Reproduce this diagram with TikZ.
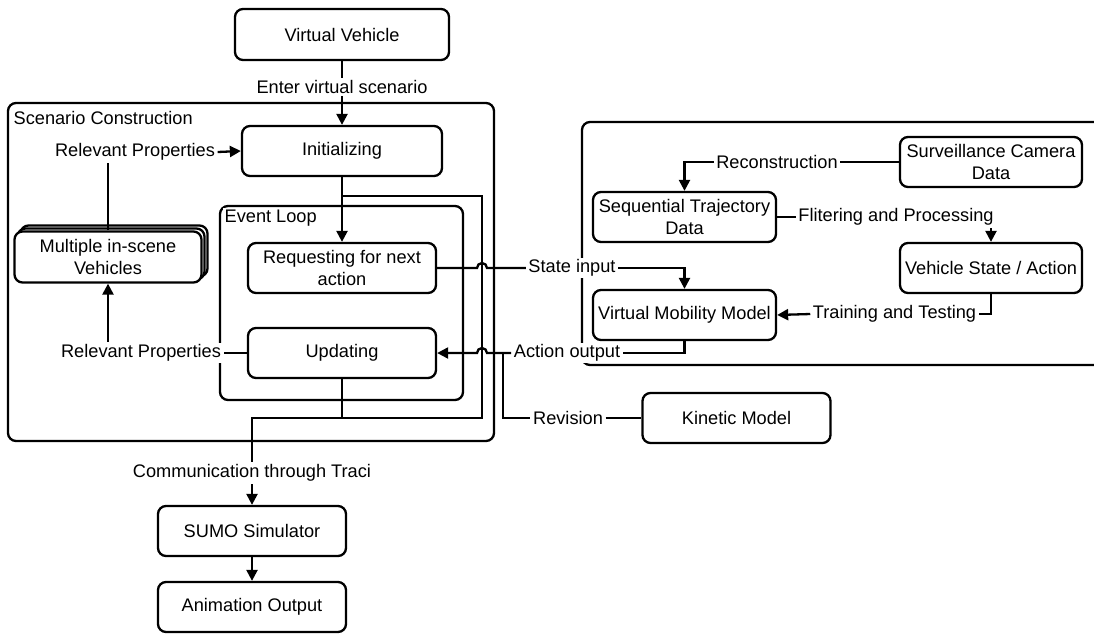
\documentclass[tikz,border=0pt]{standalone}
\usepackage{fontspec}
\setmainfont{Liberation Sans}
\usetikzlibrary{arrows.meta,shadows,calc}
\newcommand\dfont{\fontsize{18.2}{21.7}\selectfont}
\begin{document}
\begin{tikzpicture}[x=1pt,y=-1pt,line width=2.3pt,
  box/.style={draw,rounded corners=8pt,align=center,inner sep=0pt,font=\dfont,fill=white},
  wbox/.style={box,minimum width=188,minimum height=50},
  cont/.style={draw,rounded corners=8pt,inner sep=0pt},
  lbl/.style={inner sep=1.5pt,font=\dfont,fill=white},
  arr/.style={-{Triangle[length=11pt,width=11pt]}}]
\clip (0,0) rectangle (1094,633);
% containers
\node[cont,minimum width=486,minimum height=338] (sc) at (251,272) {};
\node[lbl,anchor=west] (sclbl) at (11,118) {Scenario Construction};
\node[cont,minimum width=243,minimum height=194] (el) at (341.5,303) {};
\node[lbl,anchor=west] (ellbl) at (222,218) {Event Loop};
\node[cont,minimum width=538,minimum height=243] (rp) at (851,243.5) {};
% nodes
\node[box,minimum width=214,minimum height=51] (vv) at (342,34.5) {Virtual Vehicle};
\node[lbl] (evs) at (342,87) {Enter virtual scenario};
\node[box,minimum width=200,minimum height=50] (init) at (342,151) {Initializing};
\node[wbox] (req) at (342,268) {Requesting for next\\action};
\node[wbox] (upd) at (342,353) {Updating};
\node[box,minimum width=187,minimum height=51,double copy shadow={shadow xshift=3pt,shadow yshift=3pt}] (mult) at (108,257) {Multiple in-scene\\Vehicles};
\node[lbl] (rp1) at (135,152) {Relevant Properties};
\node[lbl] (rp2) at (141,353) {Relevant Properties};
\node[lbl] (cm) at (252,473) {Communication through Traci};
\node[wbox] (sumo) at (252,531) {SUMO Simulator};
\node[wbox] (anim) at (252,607) {Animation Output};
\node[wbox] (km) at (736.5,418) {Kinetic Model};
\node[lbl] (rev) at (568,418) {Revision};
\node[box,minimum width=182,minimum height=50] (scd) at (991,162) {Surveillance Camera\\Data};
\node[box,minimum width=183,minimum height=50] (std) at (684.5,217) {Sequential Trajectory\\Data};
\node[box,minimum width=182,minimum height=50] (vsa) at (991,268) {Vehicle State / Action};
\node[box,minimum width=183,minimum height=50] (vmm) at (684.5,315) {Virtual Mobility Model};
\node[lbl] (recon) at (777,162) {Reconstruction};
\node[lbl] (flt) at (896,217) {Flitering and Processing};
\node[lbl] (tt) at (894.5,314) {Training and Testing};
\node[lbl] (si) at (572,268) {State input};
\node[lbl] (ao) at (567,353) {Action output};
% helper coordinates
\coordinate (jx) at (482,196);
\coordinate (jb) at (482,418);
\coordinate (rvx) at (503,0);
% connectors
\draw (vv.south) -- (evs.north);
\draw[arr] (evs.south) -- (init.north);
\draw[arr] (rp1.east) -- (init.west);
\draw (mult.north) -- (mult.north |- rp1.south);
\draw (upd.west) -- (rp2.east);
\draw[arr] (mult.south |- rp2.north) -- (mult.south);
\draw[arr] (init.south) -- (req.north);
\draw (init.south |- jx) -- (jx) -- (jb) -- (upd.south |- jb);
\draw (upd.south) -- (upd.south |- jb) -- (cm.north |- jb) -- (cm.north);
\draw[arr] (cm.south) -- (sumo.north);
\draw[arr] (sumo.south) -- (anim.north);
\draw (req.east) -- ($(jx |- req.east)+(-5,0)$) arc[start angle=180,end angle=0,radius=5pt] -- (si.west);
\draw[arr] (si.east) -- (vmm.north |- si.east) -- (vmm.north);
\draw (vmm.south) -- (vmm.south |- ao.east) -- (ao.east);
\draw[arr] (ao.west) -- ($(jx |- ao.west)+(5,0)$) arc[start angle=0,end angle=180,radius=5pt] -- (upd.east);
\draw (rvx |- ao.west) -- (rvx |- km.west) -- (rev.west);
\draw (rev.east) -- (km.west);
\draw (scd.west) -- (recon.east);
\draw[arr] (recon.west) -- (std.north |- recon.west) -- (std.north);
\draw (std.east) -- (flt.west);
\draw[arr] (vsa.north |- flt.south) -- (vsa.north);
\draw (vsa.south) -- (vsa.south |- tt.east) -- (tt.east);
\draw[arr] (tt.west) -- (vmm.east);
\end{tikzpicture}
\end{document}
